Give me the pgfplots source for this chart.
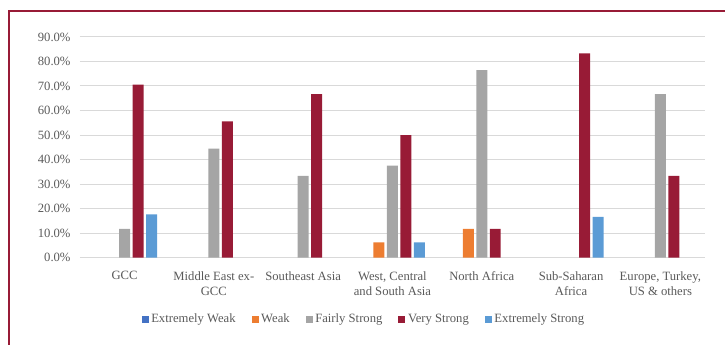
\documentclass[border=0pt]{standalone}
\usepackage{pgfplots}
\pgfplotsset{compat=1.18}
\usepackage{fontspec}
\setmainfont{Liberation Serif}
\definecolor{exweak}{HTML}{4472C4}
\definecolor{weak}{HTML}{ED7D31}
\definecolor{fair}{HTML}{A5A5A5}
\definecolor{vstrong}{HTML}{981B36}
\definecolor{exstrong}{HTML}{5B9BD5}
\definecolor{txt}{HTML}{595959}
\definecolor{gridc}{HTML}{D9D9D9}
\newcommand{\cf}{\fontsize{9.5}{11.25}\selectfont}
\begin{document}
\begin{tikzpicture}
\path (0,0) rectangle (544.5pt,258.75pt);
\draw[vstrong, line width=1.5pt] (6.75pt,0) -- (6.75pt,250.5pt) -- (544.5pt,250.5pt);
\begin{axis}[
  at={(60pt,65.25pt)}, anchor=south west,
  scale only axis, width=469.5pt, height=165.75pt,
  ybar, bar width=0.123,
  xmin=-0.5, xmax=6.5, ymin=0, ymax=90,
  enlarge x limits=false,
  axis line style={draw=none},
  tick style={draw=none},
  ymajorgrids, grid style={gridc, line width=0.75pt},
  ytick={0,10,...,90},
  yticklabels={0.0\%,10.0\%,20.0\%,30.0\%,40.0\%,50.0\%,60.0\%,70.0\%,80.0\%,90.0\%},
  xtick={0,...,6},
  xticklabels={GCC, Middle East ex-\\GCC, Southeast Asia, {West, Central\\and South Asia}, North Africa, Sub-Saharan\\Africa, {Europe, Turkey,\\US \& others}},
  xticklabel style={align=center, font=\cf, text=txt, yshift=-2.5pt},
  yticklabel style={font=\cf, text=txt, xshift=-3.5pt},
  legend columns=5,
  legend style={at={(axis description cs:0.4505,-0.2715)}, anchor=center, xshift=2pt, yshift=-1.5pt, draw=none, fill=none, font=\cf, text=txt,
    /tikz/every even column/.append style={column sep=10pt}},
  legend image code/.code={\fill[#1] (0pt,-2.6pt) rectangle (5.25pt,2.6pt);},
]
\addlegendimage{fill=exweak, draw=none}
\addplot[fill=weak, draw=none, bar shift=-0.151] coordinates {(3,6.25) (4,11.76)};
\addplot[fill=fair, draw=none, bar shift=0] coordinates {(0,11.76) (1,44.44) (2,33.33) (3,37.5) (4,76.47) (6,66.67)};
\addplot[fill=vstrong, draw=none, bar shift=0.151] coordinates {(0,70.59) (1,55.56) (2,66.67) (3,50.0) (4,11.76) (5,83.33) (6,33.33)};
\addplot[fill=exstrong, draw=none, bar shift=0.302] coordinates {(0,17.65) (3,6.25) (5,16.67)};
\legend{Extremely Weak, Weak, Fairly Strong, Very Strong, Extremely Strong}
\end{axis}
\end{tikzpicture}
\end{document}
